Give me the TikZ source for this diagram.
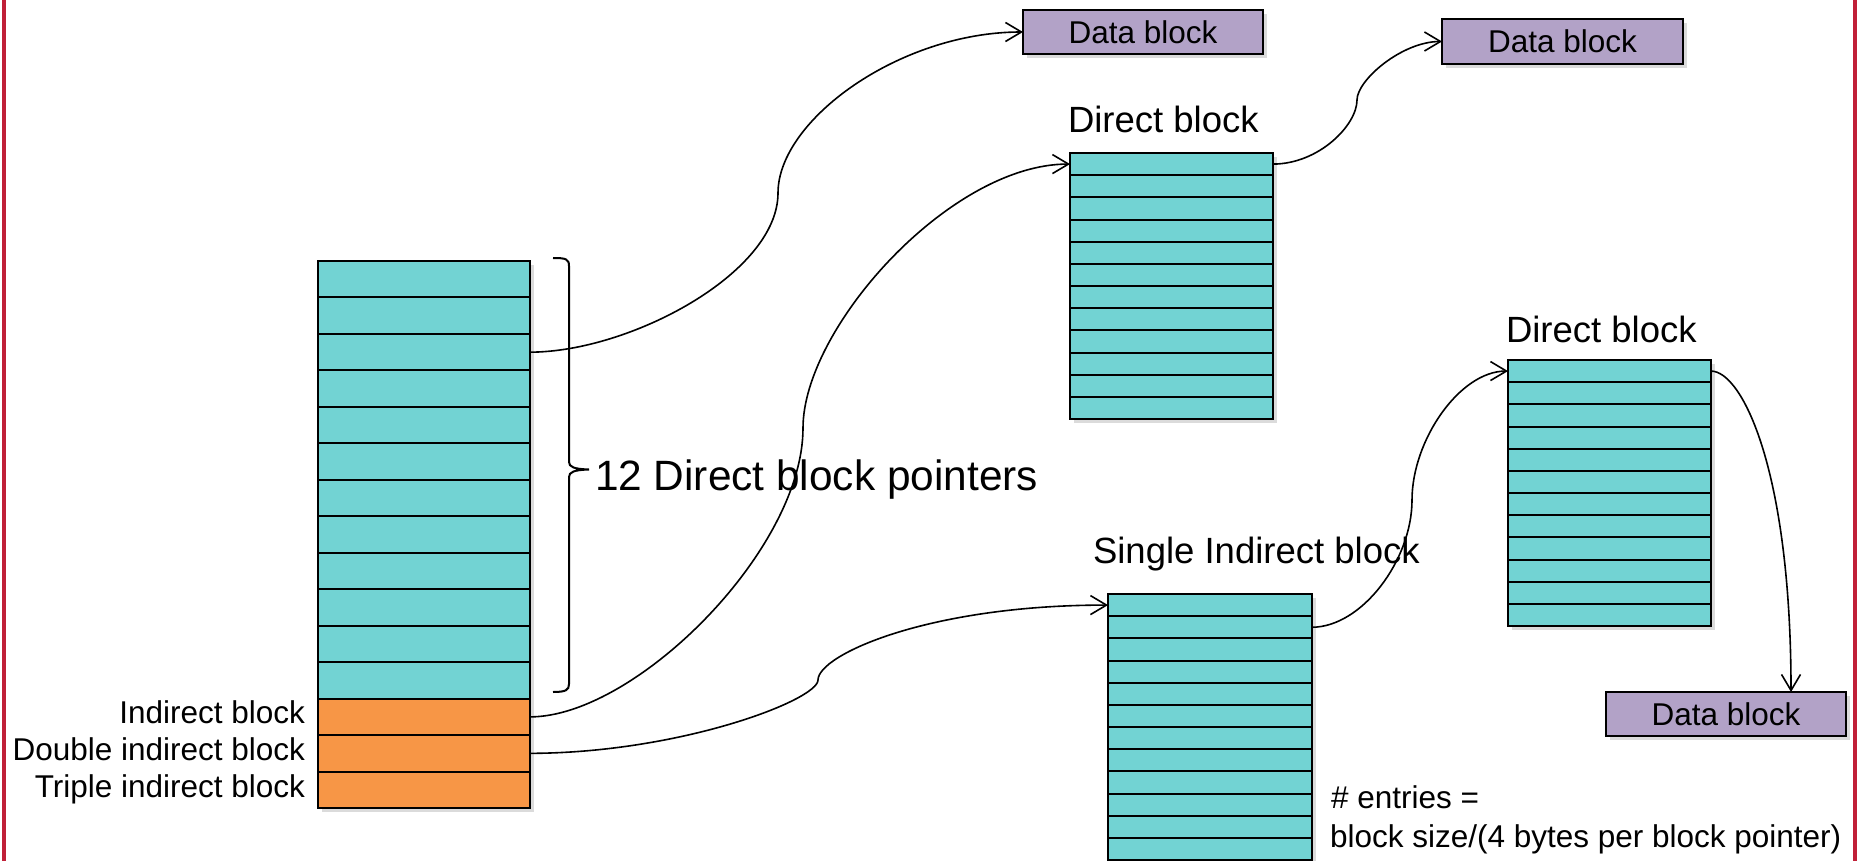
\documentclass[tikz,border=0pt]{standalone}
\usepackage{fontspec}
\setmainfont{Liberation Sans}
\usetikzlibrary{arrows.meta,backgrounds}
\definecolor{cellcyan}{RGB}{114,211,211}
\definecolor{cellorange}{RGB}{247,150,70}
\definecolor{datapurple}{RGB}{178,162,199}
\definecolor{framered}{RGB}{192,32,56}
\tikzset{
  rowbox/.style={draw=black, line width=1pt, inner sep=0pt, outer sep=0pt, anchor=north west},
  datbox/.style={draw=black, line width=1pt, fill=datapurple, inner sep=0pt, outer sep=0pt, anchor=north west,
                 font=\fontsize{15.75pt}{18pt}\selectfont},
  link/.style={draw=black, line width=0.8pt, -{Straight Barb[length=8pt,width=9.5pt]}},
  lbl/.style={inner sep=0pt, outer sep=0pt, anchor=base west},
  rlbl/.style={inner sep=0pt, outer sep=0pt, anchor=base east},
  smalltext/.style={font=\fontsize{15.75pt}{18pt}\selectfont},
  midtext/.style={font=\fontsize{18.25pt}{21pt}\selectfont},
  bigtext/.style={font=\fontsize{21.2pt}{24pt}\selectfont},
  softshadow/.style={fill=black, opacity=0.14},
}
\begin{document}
\begin{tikzpicture}[x=0.5pt,y=-0.5pt]
\useasboundingbox (0,0) rectangle (1862,861);

% frame lines
\draw[framered, line width=2pt] (4,0) -- (4,861);
\draw[framered, line width=2pt] (1855,0) -- (1855,861);

% main inode block
\foreach \i in {1,...,12}
  \node[rowbox, fill=cellcyan, minimum width=106pt, minimum height=18.235pt] (m\i) at (318,{261+36.47*(\i-1)}) {};
\foreach \i in {13,14,15}
  \node[rowbox, fill=cellorange, minimum width=106pt, minimum height=18.235pt] (m\i) at (318,{261+36.47*(\i-1)}) {};

% direct block (upper)
\foreach \i in {1,...,12}
  \node[rowbox, fill=cellcyan, minimum width=101.5pt, minimum height=11.085pt] (a\i) at (1070,{153+22.17*(\i-1)}) {};
% single indirect block
\foreach \i in {1,...,12}
  \node[rowbox, fill=cellcyan, minimum width=102pt, minimum height=11.085pt] (s\i) at (1108,{594+22.17*(\i-1)}) {};
% direct block (right)
\foreach \i in {1,...,12}
  \node[rowbox, fill=cellcyan, minimum width=101.5pt, minimum height=11.085pt] (b\i) at (1508,{360+22.17*(\i-1)}) {};

% data blocks
\node[datbox, minimum width=120pt, minimum height=22pt] (D1) at (1023,10) {Data block};
\node[datbox, minimum width=120.5pt, minimum height=22.5pt] (D2) at (1442,19) {Data block};
\node[datbox, minimum width=120pt, minimum height=22pt] (D3) at (1606,692) {Data block};

% shadows
\begin{pgfonlayer}{background}
  \fill[softshadow] ([shift={(4,4)}]m1.north west) rectangle ([shift={(4,4)}]m15.south east);
  \fill[softshadow] ([shift={(4,4)}]a1.north west) rectangle ([shift={(4,4)}]a12.south east);
  \fill[softshadow] ([shift={(4,4)}]s1.north west) rectangle ([shift={(4,4)}]s12.south east);
  \fill[softshadow] ([shift={(4,4)}]b1.north west) rectangle ([shift={(4,4)}]b12.south east);
  \fill[softshadow] ([shift={(4,4)}]D1.north west) rectangle ([shift={(4,4)}]D1.south east);
  \fill[softshadow] ([shift={(4,4)}]D2.north west) rectangle ([shift={(4,4)}]D2.south east);
  \fill[softshadow] ([shift={(4,4)}]D3.north west) rectangle ([shift={(4,4)}]D3.south east);
\end{pgfonlayer}

% labels
\node[rlbl, smalltext] (l1) at (305,723) {Indirect block};
\node[rlbl, smalltext] (l2) at (305,760) {Double indirect block};
\node[rlbl, smalltext] (l3) at (305,797) {Triple indirect block};
\node[lbl, midtext] (ta) at (1068,133) {Direct block};
\node[lbl, midtext] (tb) at (1506,342) {Direct block};
\node[lbl, midtext] (ts) at (1093,563) {Single Indirect block};
\node[lbl, bigtext] (tp) at (595,490) {12 Direct block pointers};
\node[lbl, smalltext] (e1) at (1331,808) {\# entries =};
\node[lbl, smalltext] (e2) at (1330,847) {block size/(4 bytes per block pointer)};

% brace
\draw[line width=1pt] (553,258) .. controls (566,258) and (569,259) .. (569,266) -- (569,462)
  .. controls (569,467) and (574,469) .. (589,469.5)
  .. controls (574,470) and (569,472) .. (569,477) -- (569,684)
  .. controls (569,690) and (566,692) .. (553,692);

% connectors
\draw[link] (m3.east) .. controls (630,352) and (778,273) .. (778,193)
  .. controls (778,120) and (900,32) .. (D1.west);
\draw[link] (m13.east) .. controls (635,717) and (803,550) .. (803,428)
  .. controls (803,328) and (950,164) .. (a1.west);
\draw[link] (m14.east) .. controls (680,753) and (818,700) .. (818,680)
  .. controls (818,655) and (928,605) .. (s1.west);
\draw[link] (s2.east) .. controls (1362,627) and (1412,560) .. (1412,500)
  .. controls (1412,440) and (1460,371) .. (b1.west);
\draw[link] (a1.east) .. controls (1319,164) and (1357,125) .. (1357,100)
  .. controls (1357,80) and (1402,41.5) .. (D2.west);
\coordinate (d3in) at ([xshift=-27.5pt]D3.north east);
\draw[link] (b1.east) .. controls (1742,371) and (1791,470) .. (d3in);
\end{tikzpicture}
\end{document}
